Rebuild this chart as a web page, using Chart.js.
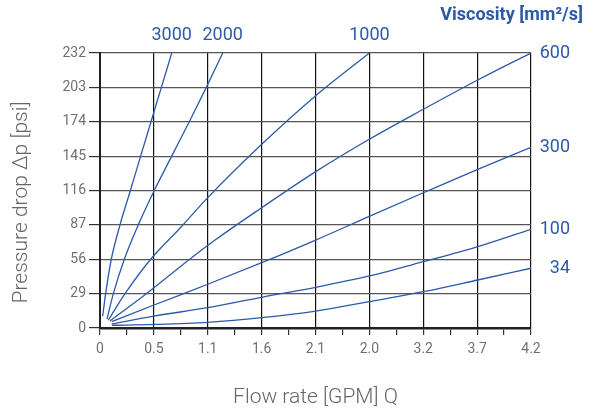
<!DOCTYPE html>
<html>
<head>
<meta charset="utf-8">
<script src="https://cdn.jsdelivr.net/npm/chart.js@4.4.0/dist/chart.umd.min.js"></script>
<style>
    html, body { margin: 0; padding: 0; background: #fff; }
    #wrap { width: 595px; height: 412px; }
</style>
</head>
<body>
<div id="wrap"><canvas id="flowChart" width="595" height="412"></canvas></div>
<script>
// tick labels as printed on the original chart
var xLabels = ['0', '0.5', '1.1', '1.6', '2.1', '2.0', '3.2', '3.7', '4.2'];
var yLabels = ['0', '29', '56', '87', '116', '145', '174', '203', '232'];
var viscosities = ['3000', '2000', '1000', '600', '300', '100', '34'];

// flow rate Q [GPM] / pressure drop [psi]
var q3000 = [0.026, 0.055, 0.110, 0.195, 0.296, 0.396, 0.497, 0.598, 0.699];
var p3000 = [10, 29, 58, 87, 116, 145, 174, 203, 232];

var q2000 = [0.068, 0.130, 0.237, 0.373, 0.529, 0.699, 0.870, 1.036, 1.196];
var p2000 = [7.6, 29, 58, 87, 116, 145, 174, 203, 232];

var q1000 = [0.081, 0.244, 0.494, 0.788, 1.050, 1.576, 2.102, 2.625];
var p1000 = [6.7, 29, 58, 85, 110, 155, 196, 232];

var q600 = [0.097, 0.458, 0.877, 1.121, 1.576, 2.102, 2.624, 3.151, 3.681, 4.2];
var p600 = [5.9, 29.3, 58.2, 74.2, 101.5, 131.9, 159.2, 184.5, 209.2, 232];

var q300 = [0.114, 0.526, 1.050, 1.576, 2.102, 2.624, 3.151, 3.681, 4.2];
var p300 = [5.3, 19.4, 36.9, 55.1, 74.2, 94.2, 114.1, 133.9, 152.4];

var q100 = [0.114, 0.526, 1.050, 1.576, 2.102, 2.624, 3.151, 3.681, 4.2];
var p100 = [3.4, 10.1, 17.1, 25.9, 34.3, 43.9, 55.9, 68.6, 83.3];

var q34 = [0.117, 0.526, 1.050, 1.576, 2.102, 2.624, 3.151, 3.681, 4.2];
var p34 = [2.3, 3.0, 4.8, 8.7, 14.3, 22.2, 30.6, 40.5, 50.4];

var curveQ = [q3000, q2000, q1000, q600, q300, q100, q34];
var curveP = [p3000, p2000, p1000, p600, p300, p100, p34];

var blue = '#2d5aa8';
var xMax = 4.2, yMax = 232;

function toPoints(qs, ps) {
    return qs.map(function (q, i) { return { x: q, y: ps[i] }; });
}

var datasets = viscosities.map(function (v, i) {
    return {
        label: v,
        data: toPoints(curveQ[i], curveP[i]),
        borderColor: blue,
        borderWidth: 1.3,
        pointRadius: 0,
        fill: false,
        cubicInterpolationMode: 'monotone'
    };
});

// viscosity numbers at the end of each curve + y axis title
var curveLabels = {
    id: 'curveLabels',
    afterDatasetsDraw: function (chart) {
        var ctx = chart.ctx, area = chart.chartArea;
        ctx.save();
        ctx.fillStyle = blue;
        ctx.textBaseline = 'middle';
        ctx.font = '18px Roboto';
        chart.data.datasets.forEach(function (ds) {
            var last = ds.data[ds.data.length - 1];
            var px = chart.scales.x.getPixelForValue(last.x);
            var py = chart.scales.y.getPixelForValue(last.y);
            if (last.x < xMax) {
                ctx.textAlign = 'center';
                ctx.fillText(ds.label, px, area.top - 18);
            } else {
                ctx.textAlign = 'right';
                ctx.fillText(ds.label, area.right + 39, py);
            }
        });
        ctx.font = 'bold 18px Roboto';
        ctx.textAlign = 'right';
        ctx.fillText('Viscosity [mm²/s]', area.right + 52, 15);

        // y title, sits a little below the middle of the plot
        ctx.fillStyle = '#666';
        ctx.font = '300 21px Roboto';
        ctx.textAlign = 'center';
        ctx.translate(22, (area.top + area.bottom) / 2 + 12);
        ctx.rotate(-Math.PI / 2);
        ctx.fillText('Pressure drop Δp [psi]', 0, 0);
        ctx.restore();
    }
};

var ctx = document.getElementById('flowChart');
window.flowChart = new Chart(ctx, {
    type: 'line',
    data: { datasets: datasets },
    plugins: [curveLabels],
    options: {
        responsive: false,
        animation: false,
        layout: { padding: { left: 0, right: 64, top: 53, bottom: 0 } },
        plugins: {
            legend: { display: false },
            tooltip: { enabled: false }
        },
        scales: {
            x: {
                type: 'linear',
                min: 0,
                max: xMax,
                afterBuildTicks: function (scale) {
                    var t = [];
                    for (var i = 0; i <= 16; i++) t.push({ value: i * xMax / 16 });
                    scale.ticks = t;
                },
                afterFit: function (scale) { scale.height = 84; },
                ticks: {
                    autoSkip: false,
                    maxRotation: 0,
                    padding: 6,
                    color: '#707070',
                    font: { family: 'Roboto', size: 14 },
                    callback: function (val, idx) {
                        return idx % 2 === 0 ? xLabels[idx / 2] : '';
                    }
                },
                grid: {
                    color: function (c) { return c.index % 2 === 0 ? '#111' : 'rgba(0,0,0,0)'; },
                    tickColor: '#333',
                    tickLength: 7,
                    lineWidth: 1.2
                },
                border: { display: true, color: '#222', width: 2.5 },
                title: {
                    display: true,
                    text: 'Flow rate [GPM] Q',
                    color: '#666',
                    font: { family: 'Roboto', size: 21, weight: 300 },
                    padding: { top: 0, bottom: 2 }
                }
            },
            y: {
                min: 0,
                max: yMax,
                afterBuildTicks: function (scale) {
                    var t = [];
                    for (var i = 0; i < yLabels.length; i++) t.push({ value: i * yMax / 8 });
                    scale.ticks = t;
                },
                afterFit: function (scale) { scale.width = 100; },
                ticks: {
                    padding: 3,
                    color: '#707070',
                    font: { family: 'Roboto', size: 14 },
                    callback: function (val, idx) { return yLabels[idx]; }
                },
                grid: {
                    color: '#555',
                    tickColor: '#333',
                    tickLength: 11,
                    lineWidth: 1.2
                },
                border: { display: true, color: '#222', width: 2 },
                title: { display: false }
            }
        }
    }
});
</script>
</body>
</html>
